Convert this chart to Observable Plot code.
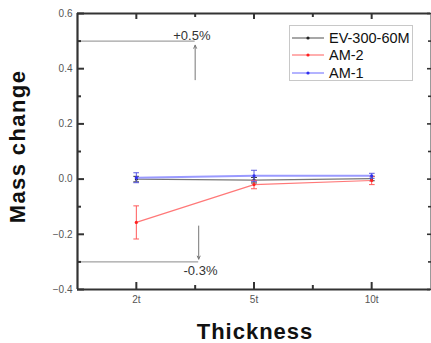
<!DOCTYPE html>
<html>
<head>
<meta charset="utf-8">
<script src="https://cdn.jsdelivr.net/npm/d3@7"></script>
<script src="https://cdn.jsdelivr.net/npm/@observablehq/plot@0.6"></script>
<style>
  html, body { margin: 0; padding: 0; background: #fff; }
  #wrap { position: relative; width: 431px; height: 343px; font-family: Arial, "Liberation Sans", sans-serif; }
  #legend { position: absolute; left: 289px; top: 25px; width: 124px; height: 56px; border: 1px solid #c8c8c8; background: #fff; box-sizing: border-box; padding-top: 3px; }
  .row { display: flex; align-items: center; height: 17.5px; font-size: 14.5px; color: #111; }
  .row svg { margin-left: 2px; margin-right: 5px; }
</style>
</head>
<body>
<div id="wrap"></div>
<script>
// ---- data ----
const categories = ["2t", "5t", "10t"];
const seriesNames = ["EV-300-60M", "AM-2", "AM-1"];
const evValues  = [0.000, -0.004, 0.002];
const evErrors  = [0.010, 0.010, 0.008];
const am2Values = [-0.157, -0.020, -0.005];
const am2Errors = [0.060, 0.015, 0.015];
const am1Values = [0.005, 0.012, 0.012];
const am1Errors = [0.018, 0.020, 0.009];
const yMajorTicks = [-0.4, -0.2, 0.0, 0.2, 0.4, 0.6];
const yMinorTicks = [-0.3, -0.1, 0.1, 0.3, 0.5];
const xDomain = [0.5, 3.5];
const xMinorTicks = [1.5, 2.5];
const annotations = [
  {label: "+0.5%", level: 0.5,  x: 1.5,  from: 0.36,  to: 0.485, tx: 1.63, ty: 0.52,  anchor: "end"},
  {label: "-0.3%", level: -0.3, x: 1.53, from: -0.17, to: -0.29, tx: 1.545, ty: -0.332, anchor: "middle"}
];
const xLabel = "Thickness";
const yLabel = "Mass change";

const lineColors = {"EV-300-60M": "#777777", "AM-2": "#ff7878", "AM-1": "#9a9aff"};
const lineWidths = {"EV-300-60M": 1.3, "AM-2": 1.2, "AM-1": 2};
const pointColors = {"EV-300-60M": "#222222", "AM-2": "#ff2020", "AM-1": "#3030ee"};
const errColors = {"EV-300-60M": "#333333", "AM-2": "#ff5a5a", "AM-1": "#5a5ae0"};

const valuesBy = {"EV-300-60M": evValues, "AM-2": am2Values, "AM-1": am1Values};
const errorsBy = {"EV-300-60M": evErrors, "AM-2": am2Errors, "AM-1": am1Errors};
const xIndex = categories.map((c, i) => i + 1);

const rows = [];
for (const s of seriesNames) {
  categories.forEach((c, i) => {
    rows.push({series: s, cat: c, x: xIndex[i], y: valuesBy[s][i], lo: valuesBy[s][i] - errorsBy[s][i], hi: valuesBy[s][i] + errorsBy[s][i]});
  });
}
const drawOrder = ["EV-300-60M", "AM-2", "AM-1"];

const marks = [];
// annotations
marks.push(Plot.ruleY(annotations, {y: "level", x1: xDomain[0], x2: "x", stroke: "#8a8a8a", strokeWidth: 1}));
marks.push(Plot.arrow(annotations, {x1: "x", x2: "x", y1: "from", y2: "to", stroke: "#777", strokeWidth: 1, headLength: 5, headAngle: 50}));
marks.push(Plot.text(annotations, {x: "tx", y: "ty", text: "label", textAnchor: "end", fontSize: 13, fill: "#333", filter: d => d.anchor === "end"}));
marks.push(Plot.text(annotations, {x: "tx", y: "ty", text: "label", textAnchor: "middle", fontSize: 13, fill: "#333", filter: d => d.anchor === "middle"}));

for (const s of drawOrder) {
  const d = rows.filter(r => r.series === s);
  marks.push(Plot.line(d, {x: "x", y: "y", stroke: lineColors[s], strokeWidth: lineWidths[s]}));
  marks.push(Plot.link(d, {x1: "x", x2: "x", y1: "lo", y2: "hi", stroke: errColors[s], strokeWidth: 1, markerStart: "tick", markerEnd: "tick"}));
  marks.push(Plot.dot(d, {x: "x", y: "y", r: 1.6, fill: pointColors[s], stroke: "none"}));
}

// frame
marks.push(Plot.ruleX([xDomain[1]], {stroke: "#9a9a9a", strokeWidth: 1}));
marks.push(Plot.ruleY([yMajorTicks[yMajorTicks.length - 1]], {stroke: "#333", strokeWidth: 2}));
marks.push(Plot.ruleY([yMajorTicks[0]], {stroke: "#333", strokeWidth: 2.2}));
marks.push(Plot.ruleX([xDomain[0]], {stroke: "#333", strokeWidth: 2.2}));

// axis ticks (inward)
marks.push(Plot.axisY({anchor: "left", ticks: yMajorTicks, tickSize: -7, fill: "none", label: null, stroke: "#333", strokeWidth: 2}));
marks.push(Plot.axisY({anchor: "left", ticks: yMinorTicks, tickSize: -4, fill: "none", label: null, stroke: "#333", strokeWidth: 2}));
marks.push(Plot.axisY({anchor: "right", ticks: yMajorTicks, tickSize: -4, fill: "none", label: null, stroke: "#333", strokeWidth: 1.6}));
marks.push(Plot.axisY({anchor: "right", ticks: yMinorTicks, tickSize: -3, fill: "none", label: null, stroke: "#333", strokeWidth: 1.6}));
marks.push(Plot.axisX({anchor: "bottom", ticks: xIndex, tickSize: -7, fill: "none", label: null, stroke: "#333", strokeWidth: 2}));
marks.push(Plot.axisX({anchor: "bottom", ticks: xMinorTicks, tickSize: -4, fill: "none", label: null, stroke: "#333", strokeWidth: 2}));
marks.push(Plot.axisX({anchor: "top", ticks: xIndex, tickSize: -5, fill: "none", label: null, stroke: "#333", strokeWidth: 2}));
marks.push(Plot.axisX({anchor: "top", ticks: xMinorTicks, tickSize: -3, fill: "none", label: null, stroke: "#333", strokeWidth: 2}));

// tick labels
marks.push(Plot.axisY({anchor: "left", ticks: yMajorTicks, tickSize: 0, tickPadding: 5, stroke: "none", fill: "#555", fontSize: 10, label: null, tickFormat: d3.format(".1f")}));
marks.push(Plot.axisX({anchor: "bottom", ticks: xIndex, tickSize: 0, tickPadding: 6, stroke: "none", fill: "#555", fontSize: 10, label: null, tickFormat: v => categories[v - 1]}));

// axis titles
marks.push(Plot.text([yLabel], {frameAnchor: "left", dx: -60, dy: -5, rotate: -90, text: d => d, fontSize: 22, fontWeight: "bold", fill: "#111", textAnchor: "middle", lineAnchor: "middle", letterSpacing: 1.4}));
marks.push(Plot.text([xLabel], {frameAnchor: "bottom", dx: 1, dy: 42, text: d => d, fontSize: 22, fontWeight: "bold", fill: "#111", textAnchor: "middle", lineAnchor: "middle"}));

const chart = Plot.plot({
  width: 431,
  height: 343,
  marginLeft: 77,
  marginRight: 1,
  marginTop: 13,
  marginBottom: 54,
  style: {fontFamily: "Arial, 'Liberation Sans', sans-serif", background: "#fff", overflow: "visible"},
  x: {domain: xDomain, axis: null},
  y: {domain: [yMajorTicks[0], yMajorTicks[yMajorTicks.length - 1]], axis: null},
  marks
});
const wrap = document.getElementById("wrap");
wrap.appendChild(chart);
chart.querySelectorAll("text").forEach(t => {
  if (t.textContent === xLabel) t.setAttribute("letter-spacing", "1px");
  if (t.textContent === yLabel) t.setAttribute("letter-spacing", "1.4px");
});

// legend
const legend = document.createElement("div");
legend.id = "legend";
for (const s of seriesNames) {
  const row = document.createElement("div");
  row.className = "row";
  row.innerHTML = `<svg width="32" height="6"><line x1="0" y1="3" x2="32" y2="3" stroke="${lineColors[s]}" stroke-width="${Math.min(lineWidths[s], 1.5)}"/><circle cx="16" cy="3" r="1.6" fill="${pointColors[s]}"/></svg><span>${s}</span>`;
  legend.appendChild(row);
}
wrap.appendChild(legend);
</script>
</body>
</html>
